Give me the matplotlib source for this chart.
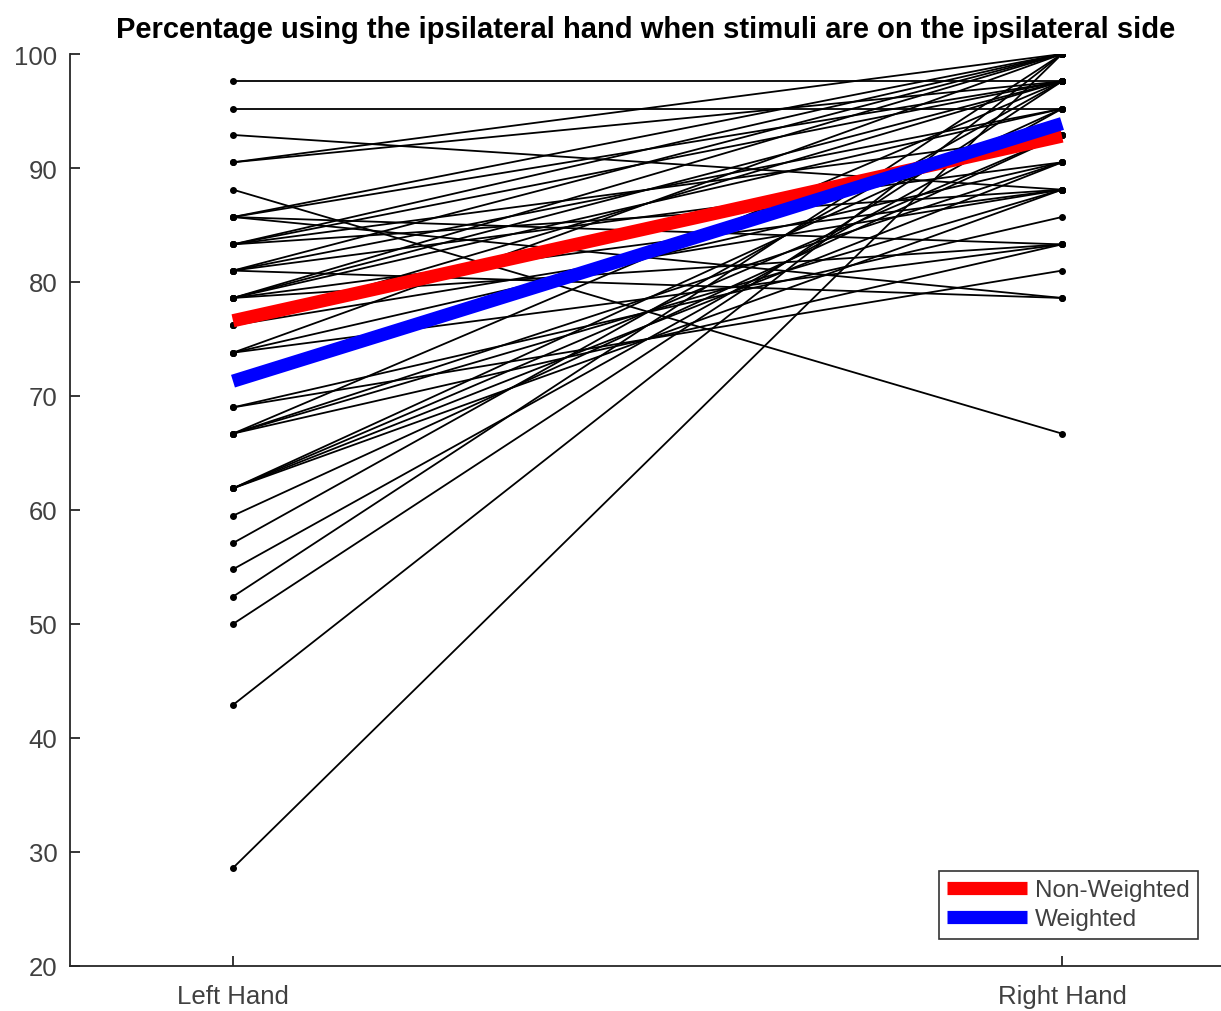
import matplotlib
matplotlib.use("Agg")
import matplotlib.pyplot as plt

# Porcentaje con la mano ipsilateral (en 42avos)
left_hand = [97.6, 95.2, 92.9, 90.5, 90.5, 88.1,
             85.7, 85.7, 85.7, 85.7,
             83.3, 83.3, 83.3, 83.3,
             81.0, 81.0, 81.0, 81.0,
             78.6, 78.6, 78.6, 78.6, 78.6,
             76.2, 76.2, 76.2,
             73.8, 73.8, 73.8,
             69.0, 69.0,
             66.7, 66.7, 66.7, 66.7,
             61.9, 61.9, 61.9, 61.9,
             59.5, 57.1, 54.8, 52.4, 50.0, 42.9, 28.6]
right_hand = [97.6, 95.2, 88.1, 100.0, 97.6, 66.7,
              78.6, 83.3, 97.6, 100.0,
              88.1, 92.9, 97.6, 100.0,
              78.6, 90.5, 95.2, 100.0,
              83.3, 88.1, 95.2, 97.6, 100.0,
              88.1, 92.9, 97.6,
              83.3, 90.5, 100.0,
              81.0, 85.7,
              83.3, 88.1, 90.5, 97.6,
              88.1, 90.5, 92.9, 95.2,
              92.9, 97.6, 95.2, 100.0, 97.6, 100.0, 100.0]

mean_no_pesada = [76.6, 92.8]
mean_pesada = [71.3, 93.9]
etiquetas = ["Left Hand", "Right Hand"]
gris = "#404040"

plt.rcParams["font.family"] = ["Liberation Sans", "DejaVu Sans"]

fig = plt.figure(figsize=(12.21, 10.12), dpi=100)
ax = fig.add_axes([70 / 1221, 45 / 1012, 1151 / 1221, 912 / 1012])

for l, r in zip(left_hand, right_hand):
    ax.plot([1, 2], [l, r], color="black", linewidth=1.3, marker="o",
            markersize=4, zorder=2)

ax.plot([1, 2], mean_no_pesada, color="red", linewidth=9.5,
        solid_capstyle="butt", label="Non-Weighted", zorder=3)
ax.plot([1, 2], mean_pesada, color="blue", linewidth=9.5,
        solid_capstyle="butt", label="Weighted", zorder=4)

ax.set_xlim(0.8034, 2.1918)
ax.set_ylim(20, 100)
ax.set_xticks([1, 2])
ax.set_xticklabels(etiquetas)
ax.set_yticks(range(20, 101, 10))
ax.spines["top"].set_visible(False)
ax.spines["right"].set_visible(False)
for s in ["left", "bottom"]:
    ax.spines[s].set_linewidth(1.3)
    ax.spines[s].set_color("#262626")
ax.tick_params(direction="in", length=7, width=1.3, colors="#262626",
               labelcolor=gris, labelsize=18.5)
ax.tick_params(axis="y", pad=9)
ax.tick_params(axis="x", pad=13)

ax.set_title("Percentage using the ipsilateral hand when stimuli are on the ipsilateral side",
             fontsize=21, fontweight="bold", pad=12)

leg = ax.legend(loc="lower right", bbox_to_anchor=(0.980, 0.0296),
                borderaxespad=0, fontsize=17.5, frameon=True, fancybox=False,
                handlelength=3.3, handletextpad=0.3, borderpad=0.35,
                labelspacing=0.3)
leg.get_frame().set_edgecolor("black")
leg.get_frame().set_linewidth(1.2)
for t in leg.get_texts():
    t.set_color(gris)

fig.savefig("out.png", dpi=100)
